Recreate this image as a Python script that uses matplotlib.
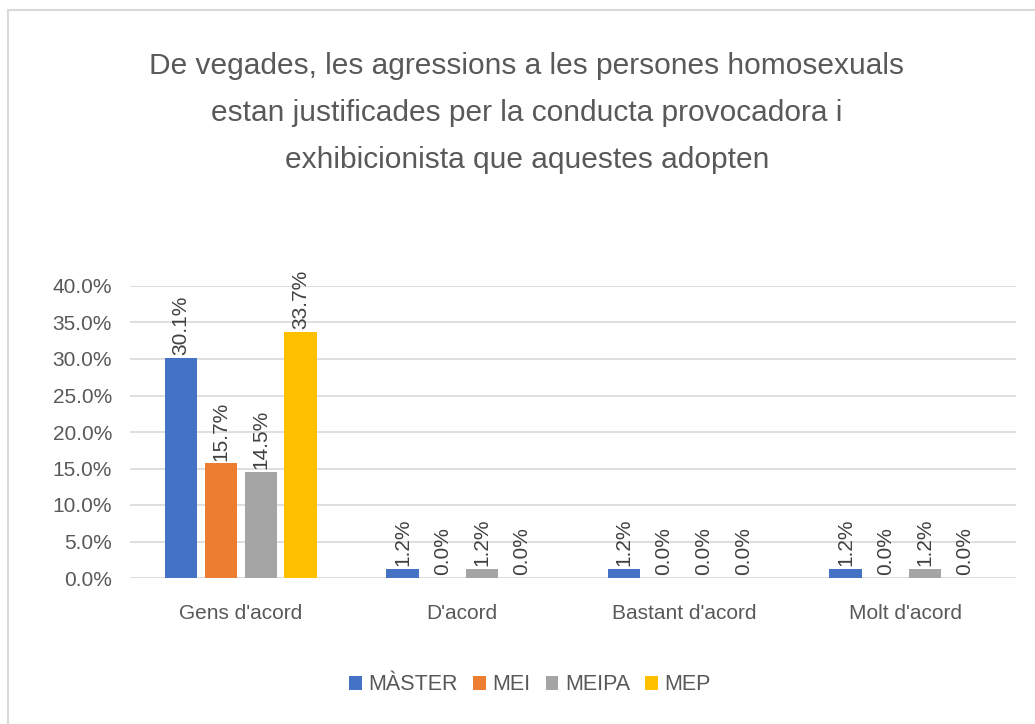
import matplotlib.pyplot as plt
import numpy as np
from matplotlib.patches import Rectangle
from matplotlib.ticker import FuncFormatter, MultipleLocator

plt.rcParams['font.family'] = ['Liberation Sans', 'DejaVu Sans']

categories = ["Gens d'acord", "D'acord", "Bastant d'acord", "Molt d'acord"]
series = ["MÀSTER", "MEI", "MEIPA", "MEP"]
master = [30.1, 1.2, 1.2, 1.2]
mei = [15.7, 0.0, 0.0, 0.0]
meipa = [14.5, 1.2, 0.0, 1.2]
mep = [33.7, 0.0, 0.0, 0.0]
colors = ["#4472C4", "#ED7D31", "#A5A5A5", "#FFC000"]
title = ("De vegades, les agressions a les persones homosexuals\n"
         "estan justificades per la conducta provocadora i\n"
         "exhibicionista que aquestes adopten")

txt = "#595959"
fig = plt.figure(figsize=(10.35, 7.24), dpi=100)
fig.patches.append(Rectangle((8 / 1035, -0.1), 1.2, 1.1 - 10 / 724, transform=fig.transFigure,
                             fill=False, edgecolor="#D9D9D9", lw=1.5, zorder=-1))
ax = fig.add_axes([130 / 1035, 1 - 578 / 724, (1016 - 130) / 1035, (578 - 286) / 724])

x = np.arange(len(categories))
step = 0.18
width = 0.145
for i, (name, vals) in enumerate(zip(series, [master, mei, meipa, mep])):
    pos = x + (i - 1.5) * step
    ax.bar(pos, vals, width, color=colors[i], label=name, zorder=3)
    for p, v in zip(pos, vals):
        ax.annotate(f"{v:.1f}%", (p, v), xytext=(0, 2), textcoords="offset points",
                    rotation=90, ha="center", va="bottom", fontsize=15, color="#404040")

ax.set_xlim(-0.5, 3.5)
ax.set_ylim(0, 40)
ax.yaxis.set_major_locator(MultipleLocator(5))
ax.yaxis.set_major_formatter(FuncFormatter(lambda v, _: f"{v:.1f}%"))
ax.grid(axis="y", color="#D9D9D9", lw=1.2, zorder=0)
ax.set_xticks(x)
ax.set_xticklabels(categories)
for s in ax.spines.values():
    s.set_visible(False)
ax.tick_params(axis="both", length=0, labelsize=15, labelcolor=txt)
ax.tick_params(axis="x", pad=19)
ax.tick_params(axis="y", pad=13)

fig.text(0.509, 1 - 113 / 724, title, ha="center", va="center", fontsize=21.5,
         color=txt, linespacing=1.85)

fig.legend(loc="center", bbox_to_anchor=(0.512, 1 - 685 / 724), ncol=4, frameon=False,
           fontsize=15.5, labelcolor=txt, handlelength=0.6, handleheight=0.6,
           handletextpad=0.3, columnspacing=0.7)

fig.savefig("out.png", dpi=100)
